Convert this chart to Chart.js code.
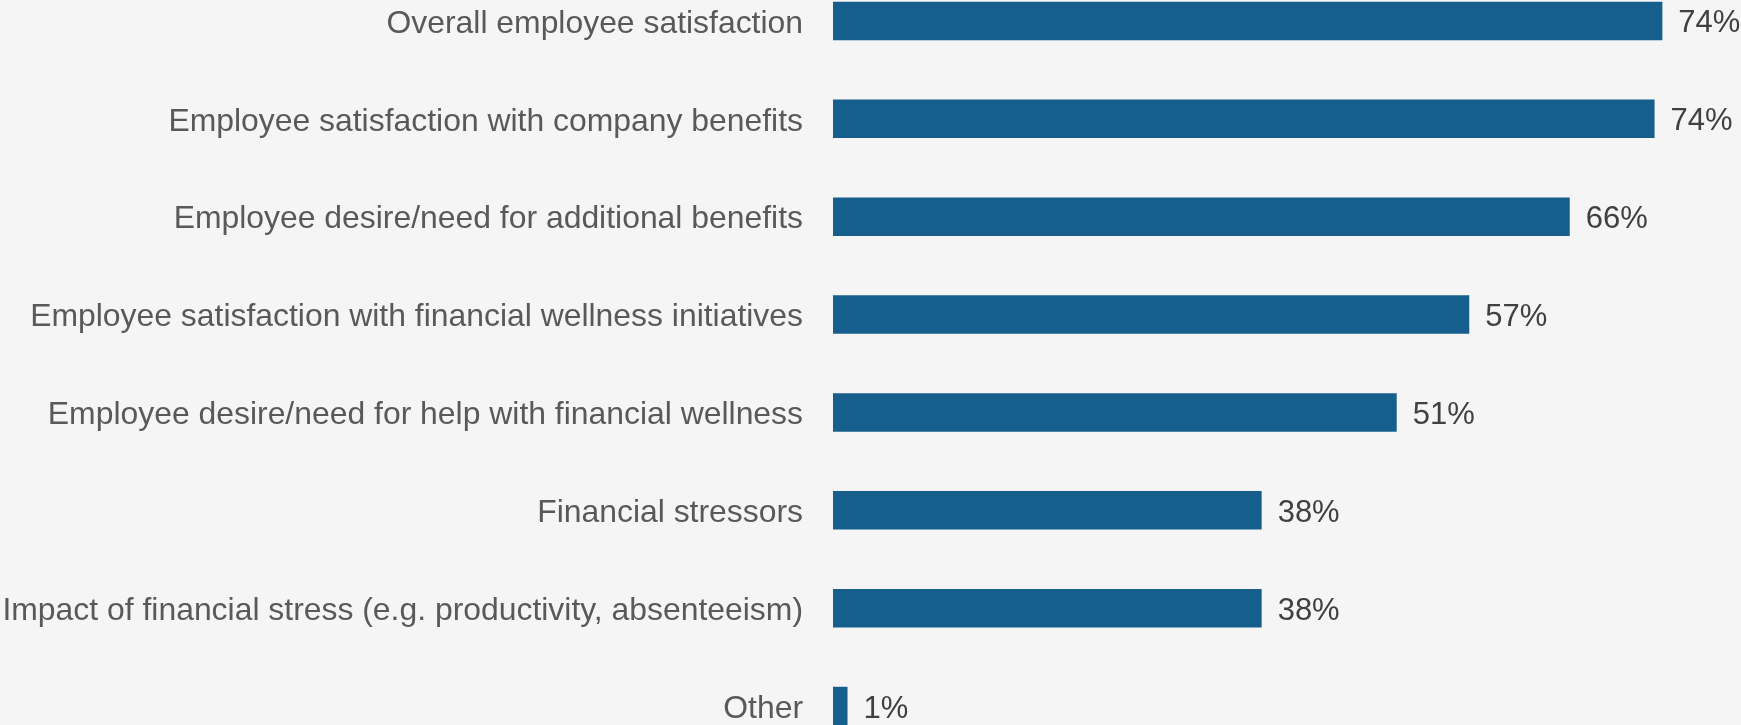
<!DOCTYPE html>
<html>
<head>
<meta charset="utf-8">
<title>Employee survey topics</title>
<script src="https://cdn.jsdelivr.net/npm/chart.js@4.4.0/dist/chart.umd.min.js"></script>
<style>
    html, body { margin: 0; padding: 0; background: #f5f5f5; overflow: hidden; }
    body { width: 1741px; height: 725px; position: relative; }
    /* chart is a little taller than the page, first and last rows sit on the edges */
    #topicsChart { position: absolute; left: 0; top: -28px; }
</style>
</head>
<body>
<canvas id="topicsChart" width="1741" height="783"></canvas>
<script>
// ── Data ──
const categories = [
    'Overall employee satisfaction',
    'Employee satisfaction with company benefits',
    'Employee desire/need for additional benefits',
    'Employee satisfaction with financial wellness initiatives',
    'Employee desire/need for help with financial wellness',
    'Financial stressors',
    'Impact of financial stress (e.g. productivity, absenteeism)',
    'Other'
];
const shares = [74.3, 73.6, 66, 57, 50.5, 38.4, 38.4, 1.3];
const xMin = 0;
const xMax = 80;

// ── Value labels at the end of each bar ──
const valueLabels = {
    id: 'valueLabels',
    afterDatasetsDraw(chart) {
        const ctx = chart.ctx;
        const meta = chart.getDatasetMeta(0);
        ctx.save();
        ctx.font = '31px "Liberation Sans", Arial, sans-serif';
        ctx.fillStyle = '#404040';
        ctx.textAlign = 'left';
        ctx.textBaseline = 'middle';
        meta.data.forEach((bar, i) => {
            const v = chart.data.datasets[0].data[i];
            ctx.fillText(Math.round(v) + '%', bar.x + 16, bar.y + 3);
        });
        ctx.restore();
    }
};

new Chart(document.getElementById('topicsChart'), {
    type: 'bar',
    data: {
        labels: categories,
        datasets: [{
            data: shares,
            backgroundColor: '#165e8c',
            borderWidth: 0,
            barPercentage: 0.394,
            categoryPercentage: 1
        }]
    },
    options: {
        indexAxis: 'y',
        responsive: false,
        animation: false,
        layout: { padding: { left: 0, right: 15, top: 0, bottom: 0 } },
        plugins: { legend: { display: false }, tooltip: { enabled: false } },
        scales: {
            x: { display: false, min: xMin, max: xMax },
            y: {
                grid: { display: false },
                border: { display: false },
                ticks: {
                    padding: 22,
                    labelOffset: 3,
                    color: '#595959',
                    font: { family: '"Liberation Sans", Arial, sans-serif', size: 31.9 }
                },
                afterFit: (scale) => {
                    // fixed axis width, no extra room above/below the rows
                    scale.width = 833;
                    scale.paddingTop = 0;
                    scale.paddingBottom = 0;
                }
            }
        }
    },
    plugins: [valueLabels]
});
</script>
</body>
</html>
